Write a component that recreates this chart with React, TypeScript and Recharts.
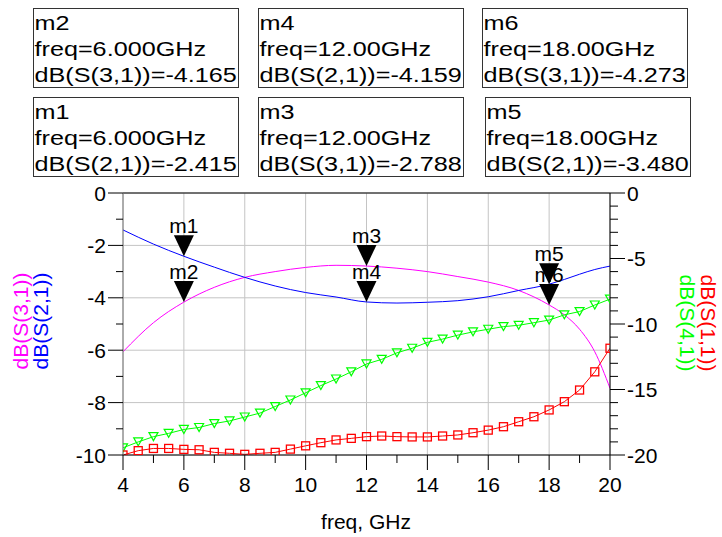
import {
  ComposedChart,
  Line,
  XAxis,
  YAxis,
  CartesianGrid,
  ReferenceLine,
  ReferenceDot,
} from "recharts";

const FONT = "'Liberation Sans', Arial, Helvetica, sans-serif";

// dB(S(4,1)) and dB(S(1,1)) are sampled every 0.5 GHz (right axis)
const freqFine = [
  4, 4.5, 5, 5.5, 6, 6.5, 7, 7.5, 8, 8.5, 9, 9.5, 10, 10.5, 11, 11.5, 12,
  12.5, 13, 13.5, 14, 14.5, 15, 15.5, 16, 16.5, 17, 17.5, 18, 18.5, 19, 19.5,
  20,
];
const s41 = [
  -19.45, -19.0, -18.6, -18.35, -18.05, -17.9, -17.6, -17.4, -17.1, -16.8,
  -16.3, -15.8, -15.25, -14.7, -14.2, -13.65, -13.05, -12.7, -12.2, -11.85,
  -11.4, -11.15, -10.85, -10.6, -10.4, -10.2, -10.1, -9.9, -9.7, -9.3, -9.05,
  -8.55, -8.1,
];
const s11 = [
  -20.0, -19.67, -19.5, -19.5, -19.57, -19.6, -19.8, -19.87, -19.95, -19.87,
  -19.8, -19.55, -19.3, -19.06, -18.85, -18.73, -18.6, -18.55, -18.6, -18.62,
  -18.62, -18.55, -18.47, -18.3, -18.1, -17.84, -17.46, -17.08, -16.56,
  -15.93, -15.04, -13.65, -11.85,
];

// dB(S(3,1)) and dB(S(2,1)) (left axis)
const freqCoarse = [
  4, 5, 6, 7, 8, 9, 10, 11, 12, 13, 14, 15, 16, 17, 18, 18.5, 19, 19.5, 20,
];
const s31 = [
  -6.06, -4.95, -4.165, -3.6, -3.22, -3.0, -2.84, -2.76, -2.788, -2.87, -3.0,
  -3.19, -3.4, -3.72, -4.273, -4.65, -5.2, -6.06, -7.45,
];
const s21 = [
  -1.41, -1.95, -2.415, -2.83, -3.22, -3.55, -3.8, -3.97, -4.159, -4.2, -4.17,
  -4.11, -3.96, -3.72, -3.48, -3.3, -3.1, -2.92, -2.79,
];

const xTicks = [4, 5, 6, 7, 8, 9, 10, 11, 12, 13, 14, 15, 16, 17, 18, 19, 20];
const xGrid = [4, 6, 8, 10, 12, 14, 16, 18, 20];
const leftTicks = [0, -1, -2, -3, -4, -5, -6, -7, -8, -9, -10];
const leftGrid = [0, -2, -4, -6, -8, -10];
const rightTicks = [
  0, -1, -2, -3, -4, -5, -6, -7, -8, -9, -10, -11, -12, -13, -14, -15, -16,
  -17, -18, -19, -20,
];

// markers, drawn in this order (m6 under m5)
const markerNames = ["m2", "m1", "m4", "m3", "m6", "m5"];
const markerFreq = [6, 6, 12, 12, 18, 18];
const markerValue = [-4.165, -2.415, -4.159, -2.788, -4.273, -3.48];
const markerTrace = [
  "dB(S(3,1))",
  "dB(S(2,1))",
  "dB(S(2,1))",
  "dB(S(3,1))",
  "dB(S(3,1))",
  "dB(S(2,1))",
];

// box position for each marker above
const boxPos = [
  [33, 8],
  [33, 97],
  [258, 8],
  [258, 97],
  [482, 8],
  [485, 97],
];

const zip = (xs: number[], ys: number[]) =>
  xs.map((f, i) => ({ freq: f, v: ys[i] }));

const XTick = ({ x, y, payload }: any) => {
  const major = payload.value % 2 === 0;
  return (
    <g>
      <line x1={x} y1={y} x2={x} y2={y + (major ? 15 : 8)} stroke="#000" />
      {major && (
        <text x={x} y={y + 37} textAnchor="middle" fontSize={21} fontFamily={FONT} fill="#000">
          {payload.value}
        </text>
      )}
    </g>
  );
};

const LeftTick = ({ x, y, payload }: any) => {
  const major = payload.value % 2 === 0;
  return (
    <g>
      <line x1={x - (major ? 15 : 7)} y1={y} x2={x} y2={y} stroke="#000" />
      {major && (
        <text x={x - 17} y={y + 7.5} textAnchor="end" fontSize={21} fontFamily={FONT} fill="#000">
          {payload.value}
        </text>
      )}
    </g>
  );
};

const RightTick = ({ x, y, payload }: any) => {
  const major = payload.value % 5 === 0;
  return (
    <g>
      <line x1={x} y1={y} x2={x + (major ? 15 : 8)} y2={y} stroke="#000" />
      {major && (
        <text x={x + 17} y={y + 7.5} textAnchor="start" fontSize={21} fontFamily={FONT} fill="#000">
          {payload.value}
        </text>
      )}
    </g>
  );
};

const TriDot = ({ cx, cy, index }: any) => (
  <path
    key={index}
    d={`M${cx - 4.5},${cy - 4} L${cx + 4.5},${cy - 4} L${cx},${cy + 4} Z`}
    fill="none"
    stroke="#00ff00"
    strokeWidth={1.2}
  />
);

const SquareDot = ({ cx, cy, index }: any) => (
  <rect
    key={index}
    x={cx - 4}
    y={cy - 4}
    width={8}
    height={8}
    fill="none"
    stroke="#ff0000"
    strokeWidth={1.3}
  />
);

const markerShape = (name: string) => (p: any) => (
  <g>
    <path
      d={`M${p.cx - 10},${p.cy - 21} L${p.cx + 10},${p.cy - 21} L${p.cx},${p.cy} Z`}
      fill="#000"
    />
    <text x={p.cx} y={p.cy - 23} textAnchor="middle" fontSize={21} fontFamily={FONT} fill="#000">
      {name}
    </text>
  </g>
);

const MarkerBox = ({ i }: { i: number }) => {
  const [bx, by] = boxPos[i];
  const lines = [
    markerNames[i],
    `freq=${markerFreq[i].toPrecision(4)}GHz`,
    `${markerTrace[i]}=${markerValue[i].toFixed(3)}`,
  ];
  return (
    <g>
      <rect x={bx + 0.5} y={by + 0.5} width={205} height={79} fill="#fff" stroke="#333" />
      {lines.map((t, k) => (
        <g key={k} transform={`translate(${bx + 1.5},${by + 22 + k * 26}) scale(1.2,1)`}>
          <text x={0} y={0} fontSize={21} fontFamily={FONT} fill="#000">
            {t}
          </text>
        </g>
      ))}
    </g>
  );
};

export default function App() {
  return (
    <div style={{ position: "absolute", left: 0, top: 0, width: 722, height: 537, background: "#fff" }}>
      <ComposedChart
        width={722}
        height={537}
        margin={{ top: 193, right: 0, bottom: 0, left: 0 }}
      >
        <CartesianGrid
          yAxisId="left"
          stroke="#c4c4c4"
          horizontalValues={leftGrid}
          verticalValues={xGrid}
        />
        <XAxis
          dataKey="freq"
          type="number"
          domain={[4, 20]}
          ticks={xTicks}
          interval={0}
          height={82}
          tickSize={0}
          tickMargin={0}
          tickLine={false}
          tick={<XTick />}
          axisLine={{ stroke: "#000" }}
          allowDataOverflow
        />
        <YAxis
          yAxisId="left"
          type="number"
          domain={[-10, 0]}
          ticks={leftTicks}
          interval={0}
          width={123}
          tickSize={0}
          tickMargin={0}
          tickLine={false}
          tick={<LeftTick />}
          axisLine={{ stroke: "#777" }}
          allowDataOverflow
        />
        <YAxis
          yAxisId="right"
          orientation="right"
          type="number"
          domain={[-20, 0]}
          ticks={rightTicks}
          interval={0}
          width={112}
          tickSize={0}
          tickMargin={0}
          tickLine={false}
          tick={<RightTick />}
          axisLine={{ stroke: "#000" }}
          allowDataOverflow
        />
        <ReferenceLine yAxisId="left" y={0} stroke="#000" />
        <Line
          yAxisId="left"
          data={zip(freqCoarse, s31)}
          dataKey="v"
          type="monotone"
          stroke="#ff00ff"
          strokeWidth={1}
          dot={false}
          isAnimationActive={false}
        />
        <Line
          yAxisId="left"
          data={zip(freqCoarse, s21)}
          dataKey="v"
          type="monotone"
          stroke="#0000ff"
          strokeWidth={1}
          dot={false}
          isAnimationActive={false}
        />
        <Line
          yAxisId="right"
          data={zip(freqFine, s41)}
          dataKey="v"
          type="linear"
          stroke="#00ff00"
          strokeWidth={1}
          dot={TriDot}
          isAnimationActive={false}
        />
        <Line
          yAxisId="right"
          data={zip(freqFine, s11)}
          dataKey="v"
          type="linear"
          stroke="#ff0000"
          strokeWidth={1}
          dot={SquareDot}
          isAnimationActive={false}
        />
        {markerNames.map((m, i) => (
          <ReferenceDot
            key={m}
            yAxisId="left"
            x={markerFreq[i]}
            y={markerValue[i]}
            r={10}
            shape={markerShape(m)}
          />
        ))}
      </ComposedChart>
      <svg
        width={722}
        height={537}
        style={{ position: "absolute", left: 0, top: 0, pointerEvents: "none" }}
      >
        {markerNames.map((m, i) => (
          <MarkerBox key={m} i={i} />
        ))}
        <text x={28} y={321} transform="rotate(-90 28 321)" textAnchor="middle" fontSize={21} fontFamily={FONT} fill="#ff00ff">
          dB(S(3,1))
        </text>
        <text x={48} y={321} transform="rotate(-90 48 321)" textAnchor="middle" fontSize={21} fontFamily={FONT} fill="#0000ff">
          dB(S(2,1))
        </text>
        <text x={701} y={323} transform="rotate(90 701 323)" textAnchor="middle" fontSize={21} fontFamily={FONT} fill="#ff0000">
          dB(S(1,1))
        </text>
        <text x={680} y={323} transform="rotate(90 680 323)" textAnchor="middle" fontSize={21} fontFamily={FONT} fill="#00ff00">
          dB(S(4,1))
        </text>
        <text x={366} y={529} textAnchor="middle" fontSize={21} fontFamily={FONT} fill="#000">
          freq, GHz
        </text>
      </svg>
    </div>
  );
}
